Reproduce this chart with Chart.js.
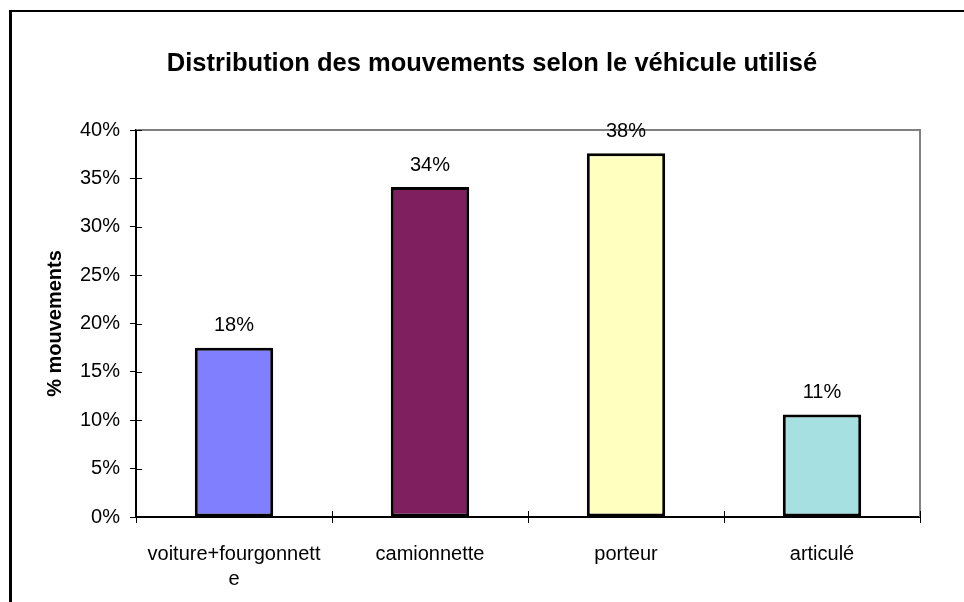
<!DOCTYPE html>
<html lang="fr">
<head>
<meta charset="utf-8">
<title>Distribution des mouvements selon le véhicule utilisé</title>
<script src="https://cdn.jsdelivr.net/npm/chart.js@4/dist/chart.umd.min.js"></script>
<style>
  html, body { margin: 0; padding: 0; background: #fff; }
  #wrap { position: relative; width: 964px; height: 602px; }
  #frame {
    position: absolute; left: 9px; top: 10px; right: 0; bottom: 0;
    border-left: 3px solid #000; border-top: 2px solid #000;
    pointer-events: none;
  }
</style>
</head>
<body>
<div id="wrap">
  <canvas id="vehiculeChart" width="964" height="602"></canvas>
  <div id="frame"></div>
</div>
<script>
const titre = 'Distribution des mouvements selon le véhicule utilisé';
const titreAxeY = '% mouvements';
const vehicules = [['voiture+fourgonnett', 'e'], 'camionnette', 'porteur', 'articulé'];
const partMouvements = [17.5, 34.1, 37.6, 10.6];
const couleurs = ['#8080ff', '#7f1f5f', '#ffffc0', '#a6e0e0'];
const graduationsY = [0, 5, 10, 15, 20, 25, 30, 35, 40];

const police = "'Liberation Sans', Arial, sans-serif";

// titre du graphique, centré sur l'objet graphique
const titrePlugin = {
    id: 'titre',
    afterDraw(chart) {
        const ctx = chart.ctx;
        ctx.save();
        ctx.font = 'bold 25.5px ' + police;
        ctx.fillStyle = '#000';
        ctx.textAlign = 'center';
        ctx.textBaseline = 'alphabetic';
        ctx.fillText(titre, 492, 71);
        ctx.restore();
    }
};

// bord gris en haut et à droite de la zone de traçage
const cadrePlugin = {
    id: 'cadre',
    beforeDatasetsDraw(chart) {
        const { ctx, chartArea: a } = chart;
        ctx.save();
        ctx.strokeStyle = '#808080';
        ctx.lineWidth = 2;
        ctx.beginPath();
        ctx.moveTo(a.left, a.top);
        ctx.lineTo(a.right, a.top);
        ctx.lineTo(a.right, a.bottom);
        ctx.stroke();
        ctx.restore();
    }
};

// graduations qui traversent les axes (partie intérieure)
const graduationsPlugin = {
    id: 'graduations',
    afterDraw(chart) {
        const { ctx, chartArea: a, scales } = chart;
        const len = 6;
        ctx.save();
        ctx.strokeStyle = '#000';
        ctx.lineWidth = 1;
        ctx.beginPath();
        scales.y.ticks.forEach(t => {
            const y = Math.round(scales.y.getPixelForValue(t.value)) + 0.5;
            ctx.moveTo(a.left, y);
            ctx.lineTo(a.left + len, y);
        });
        const n = scales.x.ticks.length;
        for (let i = 0; i <= n; i++) {
            const x = Math.round(scales.x.left + i * scales.x.width / n) + 0.5;
            ctx.moveTo(x, a.bottom);
            ctx.lineTo(x, a.bottom - len);
        }
        ctx.stroke();
        ctx.restore();
    }
};

// valeurs arrondies au-dessus des barres
const etiquettesPlugin = {
    id: 'etiquettes',
    afterDatasetsDraw(chart) {
        const ctx = chart.ctx;
        const meta = chart.getDatasetMeta(0);
        ctx.save();
        ctx.font = '20px ' + police;
        ctx.fillStyle = '#000';
        ctx.textAlign = 'center';
        ctx.textBaseline = 'middle';
        meta.data.forEach((bar, i) => {
            ctx.fillText(Math.round(partMouvements[i]) + '%', bar.x, bar.y - 22);
        });
        ctx.restore();
    }
};

new Chart(document.getElementById('vehiculeChart'), {
    type: 'bar',
    data: {
        labels: vehicules,
        datasets: [{
            data: partMouvements,
            backgroundColor: couleurs,
            borderColor: '#000',
            borderWidth: 3,
            borderSkipped: false,
            categoryPercentage: 1,
            barPercentage: 0.4
        }]
    },
    options: {
        responsive: false,
        animation: false,
        layout: { padding: { top: 130, right: 44, bottom: 0, left: 40 } },
        plugins: {
            legend: { display: false },
            tooltip: { enabled: false }
        },
        scales: {
            x: {
                grid: { drawOnChartArea: false, drawTicks: true, tickLength: 6, color: '#000', lineWidth: 1 },
                border: { color: '#000', width: 2 },
                ticks: {
                    color: '#000',
                    padding: 19,
                    maxRotation: 0,
                    autoSkip: false,
                    font: { family: police, size: 20, lineHeight: 1.25 }
                },
                afterFit(scale) { scale.height = 85; }
            },
            y: {
                min: 0,
                max: 40,
                afterBuildTicks(scale) {
                    scale.ticks = graduationsY.map(v => ({ value: v }));
                },
                grid: { drawOnChartArea: false, drawTicks: true, tickLength: 6, color: '#000', lineWidth: 1 },
                border: { color: '#000', width: 2 },
                ticks: {
                    color: '#000',
                    padding: 10,
                    font: { family: police, size: 20 },
                    callback: v => v + '%'
                },
                title: {
                    display: true,
                    text: titreAxeY,
                    color: '#000',
                    padding: { top: 3, bottom: 0 },
                    font: { family: police, size: 20, weight: 'bold' }
                },
                afterFit(scale) { scale.width = 96; }
            }
        }
    },
    plugins: [titrePlugin, cadrePlugin, graduationsPlugin, etiquettesPlugin]
});
</script>
</body>
</html>
